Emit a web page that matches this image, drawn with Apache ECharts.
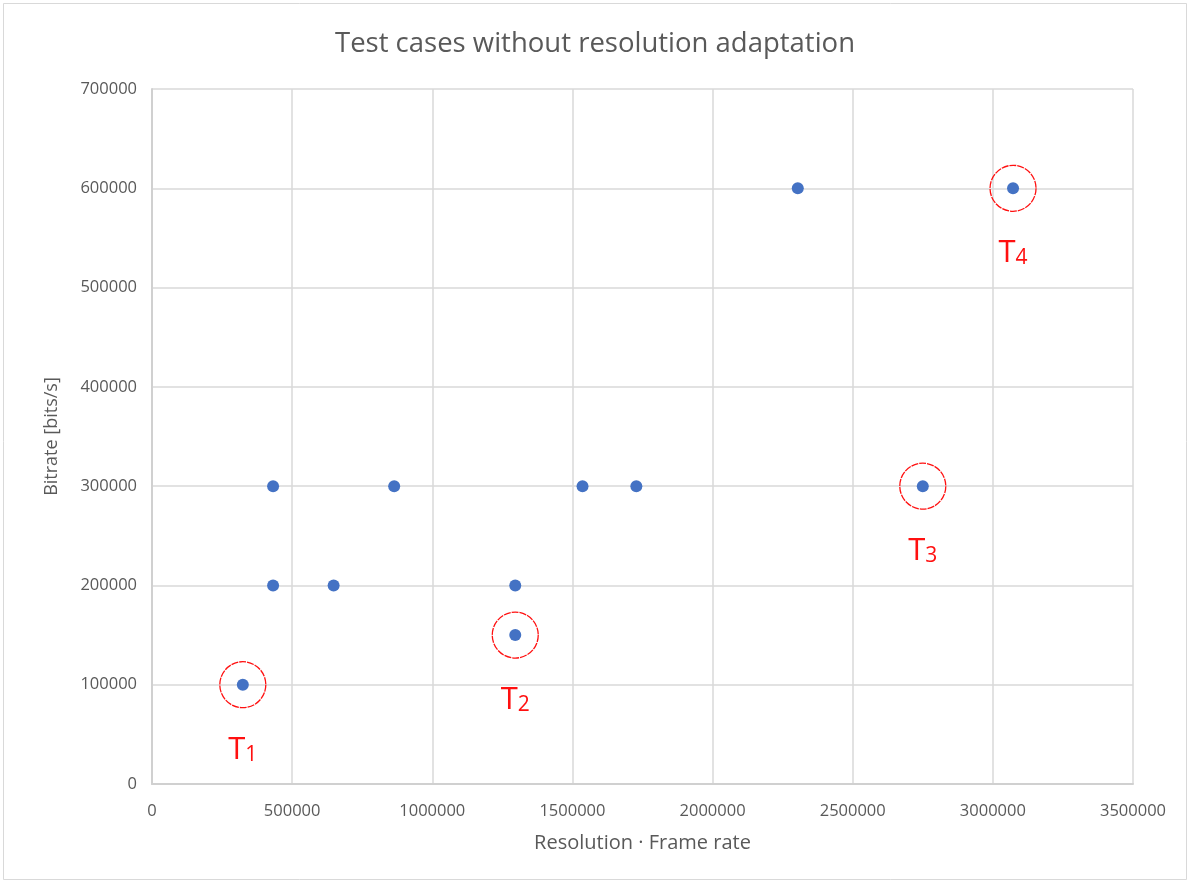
<!DOCTYPE html>
<html>
<head>
<meta charset="utf-8">
<style>
  html, body { margin: 0; padding: 0; background: #fff; }
  #chart { width: 1190px; height: 883px; }
</style>
<script src="https://cdn.jsdelivr.net/npm/echarts@6/dist/echarts.min.js"></script>
</head>
<body>
<div id="chart"></div>
<script>
// Test cases: resolution x frame rate vs bitrate
const pixelRates = [324000, 432000, 432000, 648000, 864000, 1296000, 1296000, 1536000, 1728000, 2304000, 2750000, 3072000];
const bitrates   = [100000, 300000, 200000, 200000, 300000, 200000, 150000, 300000, 300000, 600000, 300000, 600000];

// Highlighted test cases
const testNames      = ['1', '2', '3', '4'];
const testPixelRates = [324000, 1296000, 2750000, 3072000];
const testBitrates   = [100000, 150000, 300000, 600000];

const xTicks = [0, 500000, 1000000, 1500000, 2000000, 2500000, 3000000, 3500000];
const yTicks = [0, 100000, 200000, 300000, 400000, 500000, 600000, 700000];

const font = '"Open Sans", "Noto Sans", sans-serif';
const textGray = '#595959';
const gridGray = '#d9d9d9';
const red = '#ff1010';

const chart = echarts.init(document.getElementById('chart'), null, { renderer: 'canvas' });

chart.setOption({
  backgroundColor: '#ffffff',
  animation: false,
  textStyle: { fontFamily: font },
  graphic: [{
    type: 'rect',
    shape: { x: 3.5, y: 3.5, width: 1183, height: 876 },
    style: { fill: 'none', stroke: '#d9d9d9', lineWidth: 1 },
    silent: true
  }],
  title: {
    text: 'Test cases without resolution adaptation',
    left: 'center',
    top: 25,
    textStyle: { fontFamily: font, fontSize: 27.5, fontWeight: 'normal', color: textGray }
  },
  grid: { left: 152, right: 57, top: 89, bottom: 99, containLabel: false },
  xAxis: {
    type: 'value',
    min: xTicks[0],
    max: xTicks[xTicks.length - 1],
    interval: xTicks[1] - xTicks[0],
    name: 'Resolution · Frame rate',
    nameLocation: 'middle',
    nameGap: 49,
    nameTextStyle: { fontFamily: font, fontSize: 20, color: textGray },
    axisLine: { show: true, lineStyle: { color: '#d0d0d0', width: 2 } },
    axisTick: { show: false },
    axisLabel: { fontFamily: font, fontSize: 16.5, color: textGray, margin: 19, formatter: (v) => String(v) },
    splitLine: { show: true, lineStyle: { color: gridGray, width: 1.5 } }
  },
  yAxis: {
    type: 'value',
    min: yTicks[0],
    max: yTicks[yTicks.length - 1],
    interval: yTicks[1] - yTicks[0],
    name: 'Bitrate [bits/s]',
    nameLocation: 'middle',
    nameGap: 91,
    nameRotate: 90,
    nameTextStyle: { fontFamily: font, fontSize: 18, color: textGray },
    axisLine: { show: true, lineStyle: { color: '#d0d0d0', width: 2 } },
    axisTick: { show: false },
    axisLabel: { fontFamily: font, fontSize: 16.5, color: textGray, margin: 15, formatter: (v) => String(v) },
    splitLine: { show: true, lineStyle: { color: gridGray, width: 1.5 } }
  },
  series: [
    {
      name: 'cases',
      type: 'scatter',
      symbol: 'circle',
      symbolSize: 12,
      itemStyle: { color: '#4472C4', opacity: 1 },
      z: 3,
      emphasis: { disabled: true },
      data: pixelRates.map((x, i) => [x, bitrates[i]])
    },
    {
      name: 'highlighted',
      type: 'scatter',
      symbol: 'circle',
      symbolSize: 46,
      z: 2,
      itemStyle: {
        color: 'rgba(0,0,0,0)',
        opacity: 1,
        borderColor: red,
        borderWidth: 1.3,
        borderType: [7, 1]
      },
      label: {
        show: true,
        position: 'bottom',
        distance: 19,
        formatter: (p) => '{t|T}{s|' + testNames[p.dataIndex] + '}',
        rich: {
          t: { fontFamily: font, fontSize: 31, color: red, verticalAlign: 'bottom', lineHeight: 38 },
          s: { fontFamily: font, fontSize: 21, color: red, verticalAlign: 'bottom', lineHeight: 30 }
        }
      },
      emphasis: { disabled: true },
      data: testPixelRates.map((x, i) => [x, testBitrates[i]])
    }
  ]
});
</script>
</body>
</html>
